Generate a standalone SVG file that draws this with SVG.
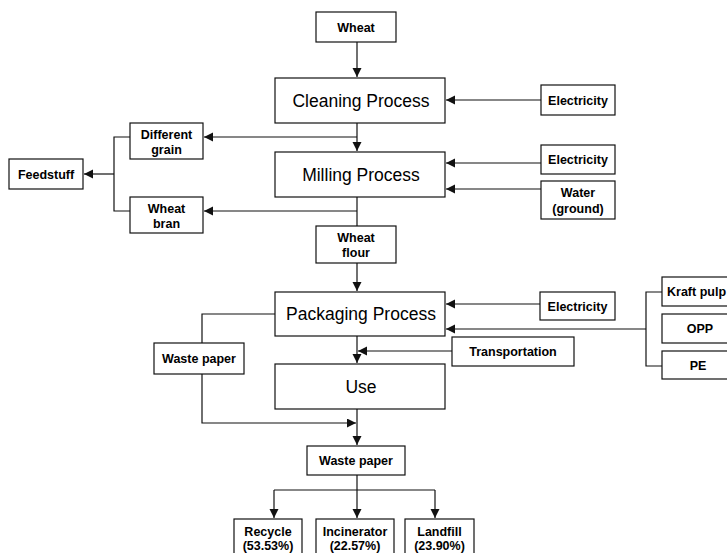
<svg xmlns="http://www.w3.org/2000/svg" width="727" height="553" viewBox="0 0 727 553">
<style>
.box{fill:#fff;stroke:#111;stroke-width:1.2}
.c{fill:none;stroke:#111;stroke-width:1.2}
.t{font-family:"Liberation Sans",Arial,sans-serif;font-size:12.5px;font-weight:bold;fill:#000;text-anchor:middle}
.p{font-family:"Liberation Sans",Arial,sans-serif;font-size:17.5px;fill:#000;text-anchor:middle}
</style>
<defs>
<marker id="ah" markerUnits="userSpaceOnUse" markerWidth="10" markerHeight="10" refX="9" refY="4.5" orient="auto">
<path d="M0,0 L9,4.5 L0,9 Z" fill="#111"/>
</marker>
</defs>
<rect width="727" height="553" fill="#fff"/>
<g id="connectors">
<path class="c" d="M357,42 V77" marker-end="url(#ah)"/>
<path class="c" d="M357,123 V151" marker-end="url(#ah)"/>
<path class="c" d="M357,137 H204" marker-end="url(#ah)"/>
<path class="c" d="M357,197 V226"/>
<path class="c" d="M357,211 H204" marker-end="url(#ah)"/>
<path class="c" d="M130,137 H114 V211 H130"/>
<path class="c" d="M114,174 H84" marker-end="url(#ah)"/>
<path class="c" d="M541,100 H446" marker-end="url(#ah)"/>
<path class="c" d="M541,163 H446" marker-end="url(#ah)"/>
<path class="c" d="M541,189 H446" marker-end="url(#ah)"/>
<path class="c" d="M357,263 V291" marker-end="url(#ah)"/>
<path class="c" d="M540,304 H446" marker-end="url(#ah)"/>
<path class="c" d="M646,329 H446" marker-end="url(#ah)"/>
<path class="c" d="M662,292 H646 V366 H662"/>
<path class="c" d="M357,336 V363" marker-end="url(#ah)"/>
<path class="c" d="M452,351 H358" marker-end="url(#ah)"/>
<path class="c" d="M275,314 H202 V343"/>
<path class="c" d="M202,374 V423 H356" marker-end="url(#ah)"/>
<path class="c" d="M357,409 V445" marker-end="url(#ah)"/>
<path class="c" d="M357,475 V518" marker-end="url(#ah)"/>
<path class="c" d="M274,490 H435"/>
<path class="c" d="M274,490 V518" marker-end="url(#ah)"/>
<path class="c" d="M435,490 V518" marker-end="url(#ah)"/>
</g>
<g id="wheat"><rect class="box" x="316" y="12" width="80" height="30"/><text class="t" x="356" y="31.5">Wheat</text></g>
<g id="cleaning"><rect class="box" x="275" y="78" width="170" height="45"/><text class="p" x="361" y="106.5">Cleaning Process</text></g>
<g id="elec1"><rect class="box" x="541" y="85" width="74" height="30"/><text class="t" x="578" y="104.5">Electricity</text></g>
<g id="diffgrain"><rect class="box" x="130" y="123" width="73" height="36"/><text class="t" x="166.5" y="139">Different</text><text class="t" x="166.5" y="154">grain</text></g>
<g id="milling"><rect class="box" x="275" y="152" width="170" height="45"/><text class="p" x="361" y="180.5">Milling Process</text></g>
<g id="elec2"><rect class="box" x="541" y="145" width="74" height="29"/><text class="t" x="578" y="164">Electricity</text></g>
<g id="water"><rect class="box" x="541" y="181" width="74" height="38"/><text class="t" x="578" y="197">Water</text><text class="t" x="578" y="213">(ground)</text></g>
<g id="feedstuff"><rect class="box" x="9" y="159" width="74" height="30"/><text class="t" x="46" y="178.5">Feedstuff</text></g>
<g id="wheatbran"><rect class="box" x="130" y="197" width="73" height="36"/><text class="t" x="166.5" y="213">Wheat</text><text class="t" x="166.5" y="228">bran</text></g>
<g id="wheatflour"><rect class="box" x="316" y="226" width="80" height="37"/><text class="t" x="356" y="242">Wheat</text><text class="t" x="356" y="257">flour</text></g>
<g id="packaging"><rect class="box" x="275" y="292" width="170" height="44"/><text class="p" x="361" y="320">Packaging Process</text></g>
<g id="elec3"><rect class="box" x="540" y="292" width="75" height="28"/><text class="t" x="577.5" y="310.5">Electricity</text></g>
<g id="kraft"><rect class="box" x="662" y="277" width="80" height="29"/><text class="t" x="667" y="296" style="text-anchor:start">Kraft pulp</text></g>
<g id="opp"><rect class="box" x="662" y="314" width="80" height="29"/><text class="t" x="700" y="333">OPP</text></g>
<g id="pe"><rect class="box" x="662" y="351" width="80" height="28"/><text class="t" x="698" y="369.5">PE</text></g>
<g id="transport"><rect class="box" x="452" y="337" width="122" height="29"/><text class="t" x="513" y="356">Transportation</text></g>
<g id="wastepaper1"><rect class="box" x="154" y="343" width="90" height="31"/><text class="t" x="199" y="363">Waste paper</text></g>
<g id="use"><rect class="box" x="275" y="364" width="170" height="45"/><text class="p" x="361" y="392.5">Use</text></g>
<g id="wastepaper2"><rect class="box" x="307" y="446" width="98" height="29"/><text class="t" x="356" y="465">Waste paper</text></g>
<g id="recycle"><rect class="box" x="234" y="519" width="68" height="40"/><text class="t" x="268" y="536">Recycle</text><text class="t" x="268" y="550">(53.53%)</text></g>
<g id="incinerator"><rect class="box" x="316" y="519" width="78" height="40"/><text class="t" x="355" y="536">Incinerator</text><text class="t" x="355" y="550">(22.57%)</text></g>
<g id="landfill"><rect class="box" x="405" y="519" width="69" height="40"/><text class="t" x="439.5" y="536">Landfill</text><text class="t" x="439.5" y="550">(23.90%)</text></g>
</svg>
